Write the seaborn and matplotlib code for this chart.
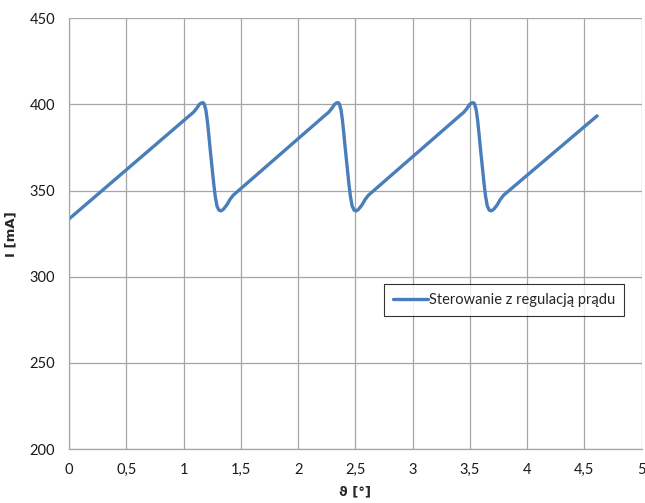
import numpy as np
import pandas as pd
import seaborn as sns
import matplotlib.pyplot as plt

# values
theta = [0.0,
         1.056, 1.085, 1.114, 1.137, 1.158, 1.172, 1.181, 1.195, 1.207, 1.219, 1.233,
         1.248, 1.263, 1.277, 1.292, 1.309, 1.326, 1.346, 1.376, 1.405, 1.434,
         2.236, 2.265, 2.294, 2.317, 2.338, 2.352, 2.361, 2.375, 2.387, 2.399, 2.413,
         2.428, 2.443, 2.457, 2.472, 2.489, 2.506, 2.526, 2.556, 2.585, 2.614,
         3.416, 3.445, 3.474, 3.497, 3.518, 3.532, 3.541, 3.555, 3.567, 3.579, 3.593,
         3.608, 3.623, 3.637, 3.652, 3.669, 3.686, 3.706, 3.736, 3.765, 3.794,
         4.610]
current = [333.5,
           393.7, 395.3, 397.6, 399.9, 400.9, 400.9, 400.1, 396.6, 390.8, 383.1, 373.4,
           363.8, 354.1, 346.4, 340.9, 338.6, 338.2, 339.0, 341.5, 344.8, 347.3,
           393.7, 395.3, 397.6, 399.9, 400.9, 400.9, 400.1, 396.6, 390.8, 383.1, 373.4,
           363.8, 354.1, 346.4, 340.9, 338.6, 338.2, 339.0, 341.5, 344.8, 347.3,
           393.7, 395.3, 397.6, 399.9, 400.9, 400.9, 400.1, 396.6, 390.8, 383.1, 373.4,
           363.8, 354.1, 346.4, 340.9, 338.6, 338.2, 339.0, 341.5, 344.8, 347.3,
           393.3]
series_name = 'Sterowanie z regulacją prądu'
xticks = [0, 0.5, 1, 1.5, 2, 2.5, 3, 3.5, 4, 4.5, 5]
xtick_labels = ['0', '0,5', '1', '1,5', '2', '2,5', '3', '3,5', '4', '4,5', '5']
yticks = [200, 250, 300, 350, 400, 450]

df = pd.DataFrame({'theta': theta, 'I': current, 'series': series_name})

sns.set_style('white')
plt.rcParams['font.family'] = ['Lato', 'DejaVu Sans']

fig = plt.figure(figsize=(6.45, 5.03), dpi=100)
ax = fig.add_axes([0.107, 0.107, 0.888, 0.857])

sns.lineplot(data=df, x='theta', y='I', hue='series', palette=['#4a7ebb'],
             sort=False, estimator=None, linewidth=2.4, ax=ax)
for l in ax.lines:
    l.set_solid_joinstyle('round')
    l.set_solid_capstyle('round')

ax.set_xlim(0, 5)
ax.set_ylim(200, 450)
ax.set_xticks(xticks)
ax.set_xticklabels(xtick_labels)
ax.set_yticks(yticks)
ax.grid(True, color='#a6a6a6', linewidth=0.9)
ax.set_axisbelow(True)
for s in ['top', 'right']:
    ax.spines[s].set_visible(False)
for s in ['left', 'bottom']:
    ax.spines[s].set_color('#a6a6a6')
    ax.spines[s].set_linewidth(0.9)
ax.tick_params(axis='both', direction='out', length=4, color='#a6a6a6',
               labelsize=10.5, labelcolor='#1a1a1a', pad=6)

ax.set_xlabel('ϑ [°]', fontsize=9.5, fontweight='bold', labelpad=6,
              family=['DejaVu Sans'])
ax.set_ylabel('I [mA]', fontsize=9.5, fontweight='bold', labelpad=9,
              family=['DejaVu Sans'])

leg = ax.legend(loc='upper left', bbox_to_anchor=(0.537, 0.40), fontsize=10.5,
                frameon=True, fancybox=False, edgecolor='black', handlelength=2.4,
                handletextpad=0.1, borderpad=0.6)
leg.get_frame().set_linewidth(0.8)

plt.savefig('out.png', dpi=100)
